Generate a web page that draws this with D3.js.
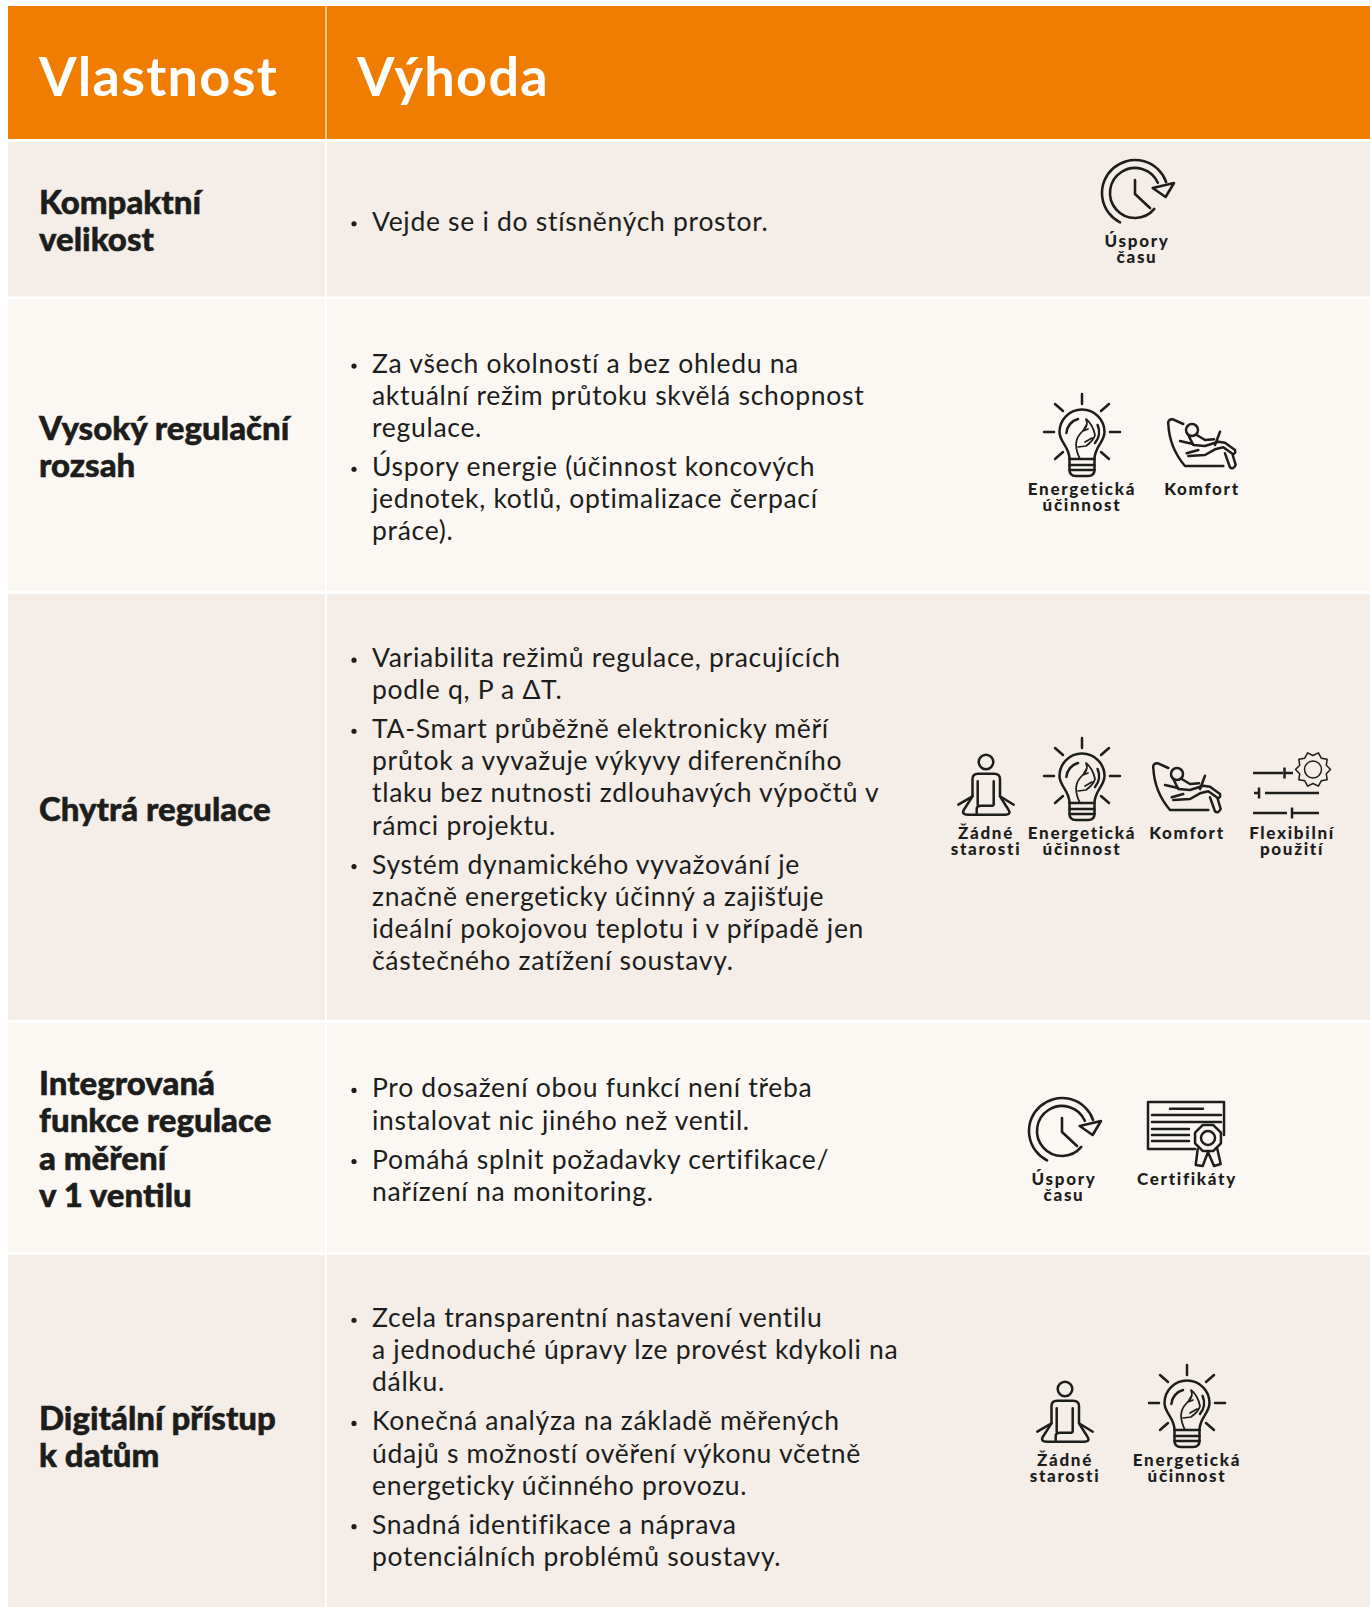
<!DOCTYPE html>
<html><head><meta charset="utf-8">
<script src="https://cdn.jsdelivr.net/npm/d3@7"></script>
<style>html,body{margin:0;padding:0;background:#fff;overflow:hidden}svg{display:block}</style></head>
<body><svg id="c" width="1370" height="1607"></svg>
<script>
const headers = ["Vlastnost", "Výhoda"];
const features = [
  ["Kompaktní", "velikost"],
  ["Vysoký regulační", "rozsah"],
  ["Chytrá regulace"],
  ["Integrovaná", "funkce regulace", "a měření", "v 1 ventilu"],
  ["Digitální přístup", "k datům"]
];
const benefits = [
  [["Vejde se i do stísněných prostor."]],
  [["Za všech okolností a bez ohledu na", "aktuální režim průtoku skvělá schopnost", "regulace."],
   ["Úspory energie (účinnost koncových", "jednotek, kotlů, optimalizace čerpací", "práce)."]],
  [["Variabilita režimů regulace, pracujících", "podle q, P a ΔT."],
   ["TA-Smart průběžně elektronicky měří", "průtok a vyvažuje výkyvy diferenčního", "tlaku bez nutnosti zdlouhavých výpočtů v", "rámci projektu."],
   ["Systém dynamického vyvažování je", "značně energeticky účinný a zajišťuje", "ideální pokojovou teplotu i v případě jen", "částečného zatížení soustavy."]],
  [["Pro dosažení obou funkcí není třeba", "instalovat nic jiného než ventil."],
   ["Pomáhá splnit požadavky certifikace/", "nařízení na monitoring."]],
  [["Zcela transparentní nastavení ventilu", "a jednoduché úpravy lze provést kdykoli na", "dálku."],
   ["Konečná analýza na základě měřených", "údajů s možností ověření výkonu včetně", "energeticky účinného provozu."],
   ["Snadná identifikace a náprava", "potenciálních problémů soustavy."]]
];
const rowIcons = [
  ["time"], ["energy", "comfort"], ["calm", "energy", "comfort", "flex"], ["time", "cert"], ["calm", "energy"]
];
const iconLabels = {
  time: ["Úspory", "času"], energy: ["Energetická", "účinnost"], comfort: ["Komfort"],
  calm: ["Žádné", "starosti"], flex: ["Flexibilní", "použití"], cert: ["Certifikáty"]
};
// layout only
const rowEdges = [142, 299.5, 594, 1023, 1255, 1618];
const rowFills = ["#f4ede8", "#fbf8f3"];
const iconX = [[1137], [1082, 1202], [986, 1082, 1187, 1292], [1064, 1187], [1065, 1187]];
const iconBase = [247, 495, 839, 1185, 1466];

const FONT = "Lato, sans-serif", INK = "#1d1d1b";
const svg = d3.select("#c");
const y = d3.scaleLinear().domain([0, 1607]).range([0, 1607]);
const arcPath = (r, a0, a1) => { const p = d3.path(); p.arc(0, 0, r, a0, a1); return p.toString(); };

function iconTime(s) {
  const g = s.append("g").attr("transform", "translate(-2,-54)").attr("stroke-width", 2.6);
  g.append("path").attr("d", arcPath(33, 2.04, 2 * Math.PI - 0.34));
  g.append("path").attr("d", arcPath(25, 0.69, 2 * Math.PI - 0.42));
  g.append("path").attr("d", "M0,-13 V1 L15,15");
  g.append("path").attr("class", "arrow").attr("d", "M17.7,-5 L30.6,4 L39,-10 Z");
}
function iconEnergy(s) {
  const g = s.append("g").attr("transform", "translate(0,-63)");
  g.append("path").attr("d", "M-12.5,27 C-12.5,15 -22.5,10 -22.5,0 A22.5,22.5 0 1 1 22.5,0 C22.5,10 12.5,15 12.5,27 V38 Q12.5,44 6,44 H-6 Q-12.5,44 -12.5,38 Z");
  g.append("path").attr("d", "M-12.5,27 H12.5 M-12.5,33 H12.5 M-12.5,38 H12.5");
  g.append("path").attr("d", "M-15.6,1 A15.6,15.6 0 0 1 -4,-13");
  g.append("path").attr("d", "M15.6,-7 A17,17 0 0 1 13,11");
  g.append("path").attr("stroke-width", 1.7).attr("d", "M-2,27 C-7,17 -7,8 -2,2 C2,-3 7,-5 4,-13 C9,-9 12,-2 13,3 C12,8 8,11 4,14 L-4,15 M5,-8 L1,-1 L6,-3 M3,10 L10,6");
  [[0,-38,0,-28],[-27,-28,-19,-21],[27,-28,19,-21],[-38,0,-28,0],[38,0,28,0],[-27,27,-19,20],[27,27,19,20]]
    .forEach(a => g.append("path").attr("d", `M${a[0]},${a[1]} L${a[2]},${a[3]}`));
}
function iconComfort(s) {
  const g = s.append("g").attr("transform", "translate(0,-51)");
  g.append("path").attr("d", "M-18.7,-20 L-29,-24.7 Q-34.5,-25 -33.7,-20 C-33,-6 -29,8 -17,22 L21.3,22");
  g.append("circle").attr("cx", -10).attr("cy", -14).attr("r", 6);
  g.append("path").attr("d", "M-13.7,-9 L-8.7,1 L3,2 L16.3,-2.3 L23,-1.3 L33,6 Q34,10 30.7,10 L21.3,3.3 L13,5.3 L3,11 L-13.7,12");
  g.append("path").attr("d", "M-5.3,-9 L3,-4 L12,-4.7 M-22,-3 L-9,0 M-15.3,9.3 L-3.7,6");
  g.append("path").attr("d", "M18,-12.3 L13,1");
  g.append("path").attr("d", "M23,9.3 L28,23.3 Q31,26 33.7,21 L30.7,11");
}
function iconCalm(s) {
  const g = s.append("g");
  g.append("circle").attr("cx", 0).attr("cy", -77).attr("r", 7.3);
  g.append("path").attr("d", "M-27.7,-34.3 L-13.5,-42.7 V-60 Q-13.5,-65.3 -8,-65.3 H8 Q14,-65.3 14,-60 V-42.7 L27.7,-34.3");
  g.append("path").attr("d", "M-8.3,-57.7 V-34.3 M7.7,-57.7 V-34.3");
  g.append("path").attr("d", "M-13.5,-42.7 L-21,-31 Q-26,-24.3 -18,-24.3 H19 Q26,-24.3 22,-30 L14,-42.7");
  g.append("path").attr("d", "M-9.3,-26 V-30 Q-9.3,-33.3 -5,-33.3 H6.7");
}
function iconFlex(s) {
  const g = s.append("g").attr("transform", "translate(0,-75.5)").attr("stroke-linecap", "butt");
  const Y = [9.5, 29.5, 49.5];
  g.append("path").attr("d", `M-39,${Y[0]} H-9 M-7.5,${Y[0] - 5.5} V${Y[0] + 5.5} M-7.5,${Y[0]} H1`);
  g.append("path").attr("d", `M-33,${Y[1] - 5.5} V${Y[1] + 5.5} M-38,${Y[1]} H-33 M-27,${Y[1]} H27`);
  g.append("path").attr("d", `M-39,${Y[2]} H-5 M0,${Y[2] - 5.5} V${Y[2] + 5.5} M0,${Y[2]} H27`);
  const gear = d3.range(0, 20).map(i => {
    const a = i / 20 * 2 * Math.PI, r = i % 2 ? 14 : 17.5;
    return [r * Math.cos(a), r * Math.sin(a)];
  });
  g.append("path").attr("stroke-width", 1.5).attr("transform", "translate(21,6)").attr("d", d3.line().curve(d3.curveLinearClosed)(gear));
  g.append("circle").attr("stroke-width", 1.5).attr("cx", 21).attr("cy", 6).attr("r", 8.5);
}
function iconCert(s) {
  const g = s.append("g").attr("transform", "translate(0,-83)");
  g.append("path").attr("d", "M8,47 H-39 V0 H37 V33");
  g.append("path").attr("d", "M-17,6.7 H16 M-35,13 H34 M-35,20 H34 M-35,27 H2 M-35,33 H2 M-35,39 H2");
  const oct = d3.range(0, 8).map(i => { const a = (i + 0.5) / 8 * 2 * Math.PI; return [14 * Math.cos(a), 14 * Math.sin(a)]; });
  g.append("path").attr("transform", "translate(21,36)").attr("d", d3.line().curve(d3.curveLinearClosed)(oct));
  g.append("circle").attr("cx", 21).attr("cy", 36).attr("r", 7);
  g.append("path").attr("d", "M10.7,47 L8.7,63 L15.7,64 L21,50 L27,64 L33.7,62 L30.3,47");
}
const iconDraw = {time: iconTime, energy: iconEnergy, comfort: iconComfort, calm: iconCalm, flex: iconFlex, cert: iconCert};

svg.append("rect").attr("x", 8).attr("y", y(6)).attr("width", 1362).attr("height", y(139) - y(6)).attr("fill", "#f07d00");
svg.append("rect").attr("x", 325.3).attr("y", y(6)).attr("width", 1.5).attr("height", y(139) - y(6)).attr("fill", "#fbe0c0");
svg.selectAll("text.h").data(headers).join("text").attr("class", "h")
  .attr("x", (d, i) => [39, 357][i]).attr("y", 96)
  .attr("font-family", FONT).attr("font-weight", 700).attr("font-size", 54)
  .attr("fill", "#fff").attr("letter-spacing", 1.3).text(d => d);

const rows = svg.selectAll("g.row").data(features).join("g").attr("class", "row");
rows.append("rect").attr("x", 8).attr("width", 317)
  .attr("y", (d, i) => y(rowEdges[i])).attr("height", (d, i) => y(rowEdges[i + 1]) - y(rowEdges[i]) - 3)
  .attr("fill", (d, i) => rowFills[i % 2]);
rows.append("rect").attr("x", 327).attr("width", 1043)
  .attr("y", (d, i) => y(rowEdges[i])).attr("height", (d, i) => y(rowEdges[i + 1]) - y(rowEdges[i]) - 3)
  .attr("fill", (d, i) => rowFills[i % 2]);

rows.each(function (lines, i) {
  const g = d3.select(this);
  const cy = (rowEdges[i] + rowEdges[i + 1]) / 2;
  const LH = 37.3;
  g.selectAll("text.f").data(lines).join("text").attr("class", "f")
    .attr("x", 39).attr("y", (d, k) => cy - (lines.length - 1) * LH / 2 + k * LH + 12)
    .attr("font-family", FONT).attr("font-weight", 900).attr("font-size", 33)
    .attr("fill", INK).attr("stroke", INK).attr("stroke-width", 0.5).text(d => d);
  const bl = benefits[i];
  const lh = 32.1, gap = 39;
  const total = bl.reduce((a, p) => a + (p.length - 1) * lh, 0) + (bl.length - 1) * gap;
  let yy = cy - total / 2 + 2 + 8;
  bl.forEach(p => {
    g.append("circle").attr("cx", 354).attr("cy", yy - 7).attr("r", 2.6).attr("fill", INK);
    p.forEach((t, k) => {
      g.append("text").attr("x", 372).attr("y", yy + k * lh)
        .attr("font-family", FONT).attr("font-size", 26.5).attr("fill", INK).attr("letter-spacing", 0.7).text(t);
    });
    yy += (p.length - 1) * lh + gap;
  });
  rowIcons[i].forEach((name, k) => {
    const ig = g.append("g").attr("transform", `translate(${iconX[i][k]},${iconBase[i]})`);
    iconDraw[name](ig.append("g").attr("fill", "none").attr("stroke", INK).attr("stroke-width", 2.5)
      .attr("stroke-linecap", "round").attr("stroke-linejoin", "round"));
    ig.selectAll("path.arrow").attr("fill", rowFills[i % 2]);
    ig.selectAll("text").data(iconLabels[name]).join("text")
      .attr("y", (d, m) => m * 16.2).attr("text-anchor", "middle")
      .attr("font-family", FONT).attr("font-weight", 900).attr("font-size", 17).attr("letter-spacing", 1.7)
      .attr("fill", INK).text(d => d);
  });
});
</script>
</body></html>
